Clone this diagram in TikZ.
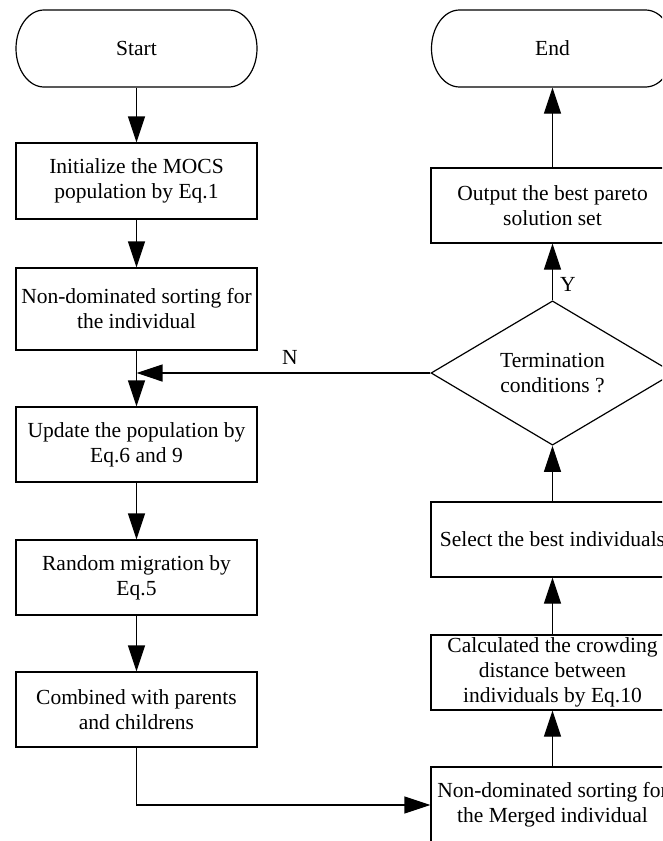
\documentclass[tikz,border=0pt]{standalone}
\usepackage{fontspec}
\setmainfont{Liberation Serif}
\usetikzlibrary{arrows.meta,shapes.geometric}
\begin{document}
\begin{tikzpicture}[x=1pt,y=-1pt,
  font=\fontsize{21.5}{25}\selectfont,
  line width=1.2pt,
  boxL/.style={draw, rectangle, minimum width=241pt, inner sep=0pt, align=center},
  boxR/.style={draw, rectangle, minimum width=243pt, inner sep=0pt, align=center},
  term/.style={rectangle, minimum width=241pt, minimum height=77pt, inner sep=0pt},
  arr/.style={-{Triangle[length=26pt,width=17pt]}},
  lbl/.style={inner sep=0pt}
]
\useasboundingbox (0,0) rectangle (662,841);
\clip (0,0) rectangle (662,841);
\fill[white] (0,0) rectangle (662,841);

% left column
\node[term] (start) at (136.5,48.5) {Start};
\draw (44,10) -- (229,10) arc[start angle=-90,end angle=90,x radius=28,y radius=38.5]
      -- (44,87) arc[start angle=90,end angle=270,x radius=28,y radius=38.5] -- cycle;
\node[boxL, minimum height=76pt] (init) at (136.5,181) {Initialize the MOCS\\population by Eq.1};
\node[boxL, minimum height=82pt] (nds) at (136.5,309) {Non-dominated sorting for\\the individual};
\node[boxL, minimum height=75pt] (upd) at (136.5,444.5) {Update the population by\\Eq.6 and 9};
\node[boxL, minimum height=75pt] (rand) at (136.5,577.5) {Random migration by\\Eq.5};
\node[boxL, minimum height=75pt] (comb) at (136.5,709.5) {Combined with parents\\and childrens};

% right column
\node[term, minimum width=243pt] (end) at (552.5,48.5) {End};
\draw (459.5,10) -- (645.5,10) arc[start angle=-90,end angle=90,x radius=28,y radius=38.5]
      -- (459.5,87) arc[start angle=90,end angle=270,x radius=28,y radius=38.5] -- cycle;
\node[boxR, minimum height=75pt] (out) at (552.5,205.5) {Output the best pareto\\solution set};
\node[draw, diamond, minimum width=243pt, minimum height=144pt, inner sep=0pt, align=center] (cond) at (552.5,373) {Termination\\conditions ?};
\node[boxR, minimum height=75pt] (sel) at (552.5,539.5) {Select the best individuals};
\node[boxR, minimum height=75pt] (calc) at (552.5,672.5) {Calculated the crowding\\distance between\\individuals by Eq.10};
\node[boxR, minimum height=76pt] (merg) at (552.5,805) {Non-dominated sorting for\\the Merged individual};

% connectors
\draw[arr] (start) -- (init);
\draw[arr] (init) -- (nds);
\draw[arr] (nds) -- (upd);
\draw[arr] (upd) -- (rand);
\draw[arr] (rand) -- (comb);
\draw[arr] (comb.south) |- (merg.west);
\draw[arr] (merg) -- (calc);
\draw[arr] (calc) -- (sel);
\draw[arr] (sel) -- (cond);
\draw[arr] (cond) -- (out);
\draw[arr] (out) -- (end);
\coordinate (join) at (nds.south |- cond.west);
\draw[arr] (cond.west) -- (join);

\node[lbl] (nlab) at (290,357) {N};
\node[lbl] (ylab) at (568,284) {Y};
\end{tikzpicture}
\end{document}
